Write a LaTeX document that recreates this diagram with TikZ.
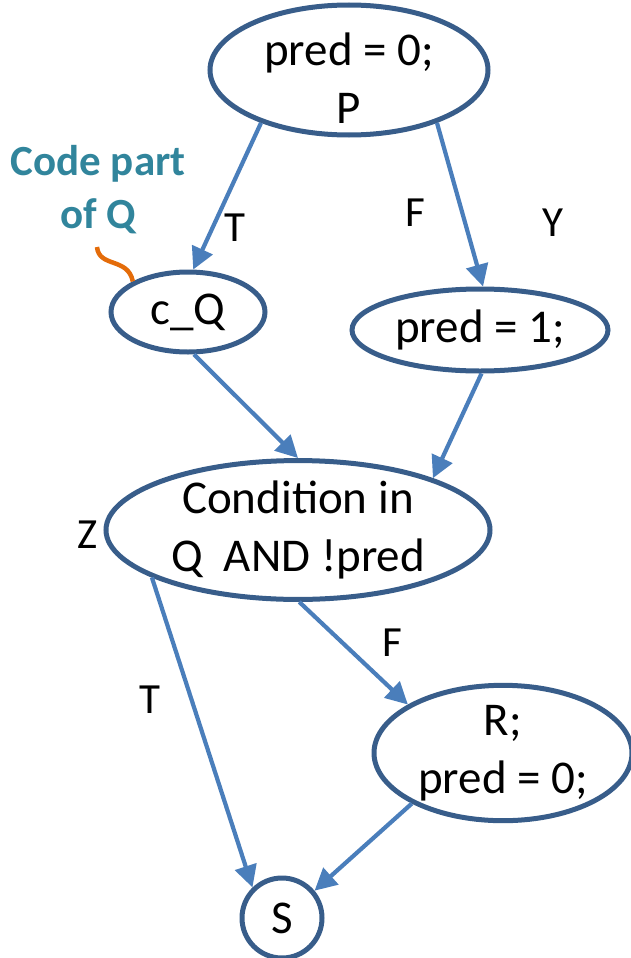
\documentclass[tikz,border=0pt]{standalone}
\usepackage{fontspec}
\setmainfont{Carlito}
\usetikzlibrary{shapes.geometric,arrows.meta}
\definecolor{nodeborder}{HTML}{385D8A}
\definecolor{arrowblue}{HTML}{4A7EBB}
\definecolor{tealtxt}{HTML}{31859C}
\definecolor{orangeln}{HTML}{E46C0A}
\tikzset{
  blob/.style={ellipse, draw=nodeborder, line width=5pt, inner sep=0pt, align=center,
    font=\fontsize{47}{58}\selectfont},
  flow/.style={draw=arrowblue, line width=4.2pt, -{Triangle[length=22pt,width=22pt]}},
  lbl/.style={font=\fontsize{43}{50}\selectfont, inner sep=0pt},
  note/.style={font=\fontsize{43}{53}\selectfont\bfseries, text=tealtxt, inner sep=0pt, align=center}
}
\begin{document}
\begin{tikzpicture}[x=1pt,y=-1pt]
\useasboundingbox (0,0) rectangle (631,958);
\node[blob, minimum width=278pt, minimum height=130pt] (P) at (349,70) {\raisebox{-19pt}[0pt][0pt]{\begin{tabular}{@{}c@{}}pred = 0;\\P\end{tabular}}};
\node[blob, minimum width=154pt, minimum height=80pt] (cQ) at (188,312) {c\_Q};
\node[blob, minimum width=256pt, minimum height=82pt] (p1) at (480,330) {pred = 1;};
\node[blob, minimum width=384pt, minimum height=130pt] (C) at (298,530) {Condition in\\Q\ \ AND !pred};
\node[blob, minimum width=258pt, minimum height=130pt] (R) at (503,753) {R;\\pred = 0;};
\node[blob, circle, minimum size=80pt] (S) at (282,918) {S};

\draw[flow] (P.211) -- (cQ.83);
\draw[flow] (P.329) -- (p1.86);
\draw[flow] (cQ.-82) -- (C.90);
\draw[flow] (p1.-88) -- (C.21);
\draw[flow] (C.198) -- (S.134);
\draw[flow] (C.-89) -- (R.153);
\draw[flow] (R.209) -- (S.40);

\node[lbl] (t1) at (235,228) {T};
\node[lbl] (f1) at (415,213) {F};
\node[lbl] (y1) at (553,223) {Y};
\node[lbl] (z1) at (88,535) {Z};
\node[lbl] (f2) at (392,643) {F};
\node[lbl] (t2) at (150,700) {T};

\node[note] (code) at (98,190) {Code part\\of Q};
\coordinate (cs) at (97,247);
\draw[orangeln, line width=4.5pt] (cs) .. controls (99,268) and (128,257) .. (cQ.151);
\end{tikzpicture}
\end{document}
